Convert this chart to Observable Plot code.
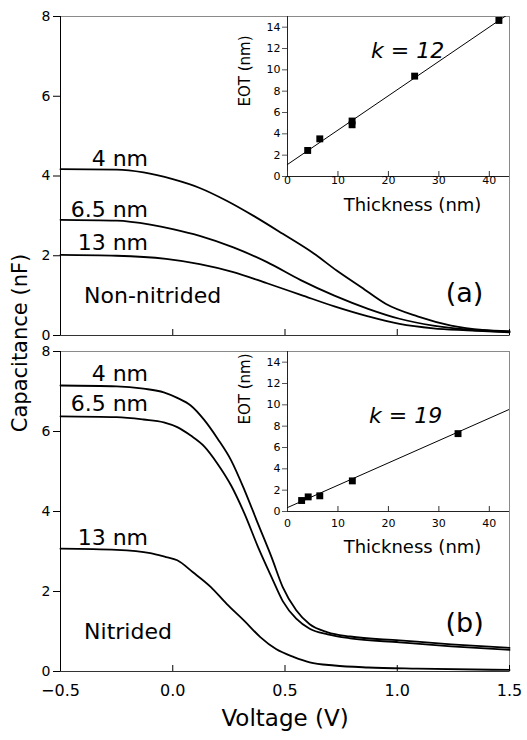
<!DOCTYPE html>
<html>
<head>
<meta charset="utf-8">
<script src="https://cdn.jsdelivr.net/npm/d3@7"></script>
<script src="https://cdn.jsdelivr.net/npm/@observablehq/plot@0.6"></script>
<style>
  html, body { margin: 0; padding: 0; background: #fff; }
  #wrap { position: relative; width: 527px; height: 740px; overflow: hidden; background: #fff; font-family: "DejaVu Sans", sans-serif; }
  .layer { position: absolute; }
  .layer svg { overflow: visible; }
  #ylab { position: absolute; left: 20px; top: 343px; transform: translate(-50%, -50%) rotate(-90deg); white-space: nowrap; font-size: 21px; color: #000; }
</style>
</head>
<body>
<div id="wrap">
  <div id="ylab">Capacitance (nF)</div>
</div>
<script>
// ---------- Data ----------
const voltTicks = [-0.5, 0.0, 0.5, 1.0, 1.5];
const capTicks = [0, 2, 4, 6, 8];
const thickTicks = [0, 10, 20, 30, 40];
const eotTicks = [0, 2, 4, 6, 8, 10, 12, 14];

// Panel (a) non-nitrided C-V curves
const a4V  = [-0.5, -0.25, -0.13, 0.0, 0.12, 0.24, 0.36, 0.49, 0.63, 0.73, 0.84, 0.95, 1.09, 1.24, 1.38, 1.5];
const a4C  = [4.17, 4.16, 4.09, 3.92, 3.70, 3.38, 3.00, 2.55, 2.05, 1.63, 1.21, 0.79, 0.48, 0.25, 0.14, 0.11];
const a65V = [-0.5, -0.25, -0.1, 0.0, 0.12, 0.27, 0.42, 0.57, 0.72, 0.87, 1.01, 1.16, 1.31, 1.5];
const a65C = [2.90, 2.88, 2.78, 2.67, 2.50, 2.21, 1.84, 1.39, 1.00, 0.67, 0.42, 0.25, 0.15, 0.09];
const a13V = [-0.5, -0.25, -0.03, 0.12, 0.27, 0.42, 0.57, 0.72, 0.87, 1.01, 1.16, 1.31, 1.5];
const a13C = [2.02, 2.00, 1.92, 1.79, 1.59, 1.31, 1.02, 0.73, 0.48, 0.29, 0.18, 0.13, 0.08];

// Panel (b) nitrided C-V curves
const b4V  = [-0.5, -0.25, -0.13, -0.04, 0.02, 0.08, 0.14, 0.2, 0.26, 0.32, 0.38, 0.44, 0.49, 0.55, 0.61, 0.69, 0.79, 1.01, 1.24, 1.5];
const b4C  = [7.15, 7.13, 7.07, 6.98, 6.84, 6.65, 6.29, 5.82, 5.28, 4.53, 3.69, 2.86, 2.11, 1.53, 1.18, 0.98, 0.875, 0.78, 0.68, 0.59];
const b65V = [-0.5, -0.25, -0.13, -0.04, 0.02, 0.08, 0.14, 0.2, 0.26, 0.32, 0.38, 0.44, 0.49, 0.55, 0.61, 0.69, 0.79, 1.01, 1.24, 1.5];
const b65C = [6.38, 6.36, 6.30, 6.23, 6.11, 5.90, 5.63, 5.19, 4.65, 3.94, 3.11, 2.36, 1.76, 1.32, 1.07, 0.93, 0.83, 0.73, 0.63, 0.54];
const b13V = [-0.5, -0.25, -0.1, -0.03, 0.02, 0.09, 0.17, 0.24, 0.32, 0.39, 0.46, 0.54, 0.61, 0.72, 0.87, 1.09, 1.5];
const b13C = [3.07, 3.04, 2.96, 2.86, 2.78, 2.48, 2.11, 1.69, 1.26, 0.86, 0.56, 0.36, 0.23, 0.15, 0.10, 0.07, 0.04];

// Insets: EOT vs physical thickness
const aThick = [4.0, 6.4, 12.8, 12.8, 25.2, 41.9];
const aEOT   = [2.44, 3.53, 4.85, 5.2, 9.41, 14.63];
const aFitT  = [0, 44];
const aFitE  = [1.13, 15.3];
const bThick = [2.8, 4.1, 6.4, 12.85, 33.8];
const bEOT   = [1.03, 1.37, 1.47, 2.87, 7.3];
const bFitT  = [0, 44];
const bFitE  = [0.37, 9.58];

// ---------- helpers ----------
const zip = (xs, ys) => xs.map((x, i) => ({x, y: ys[i]}));
const FONT = "DejaVu Sans, sans-serif";
const wrap = document.getElementById("wrap");
function place(el, left, top) {
  const d = document.createElement("div");
  d.className = "layer";
  d.style.left = left + "px";
  d.style.top = top + "px";
  d.appendChild(el);
  wrap.appendChild(d);
}

function mainPanel({height, marginTop, marginBottom, curves, labels, tag, tagY, name, nameY, showX}) {
  const innerH = height - marginTop - marginBottom;
  const marks = [
    Plot.frame({stroke: "#8a8a8a"}),
    Plot.ruleX([voltTicks[0]], {stroke: "#000"}),
    Plot.ruleY([capTicks[0]], {stroke: "#333"}),
    Plot.axisY({ticks: capTicks, tickSize: 7, tickPadding: 3, fontSize: 14, label: null, tickFormat: d3.format("d")}),
    Plot.tickX(voltTicks, {x: d => d, insetTop: innerH - 6, stroke: "#000"})
  ];
  curves.forEach(([vs, cs]) => marks.push(Plot.line(zip(vs, cs), {x: "x", y: "y", stroke: "#000", strokeWidth: 1.8, curve: "monotone-x"})));
  labels.forEach(([txt, yv]) => marks.push(Plot.text([txt], {x: -0.11, y: yv, textAnchor: "end", fontSize: 22})));
  marks.push(Plot.text([name], {x: -0.395, y: nameY, textAnchor: "start", fontSize: 22}));
  marks.push(Plot.text([tag], {x: 1.30, y: tagY, fontSize: 27}));
  if (showX) {
    marks.push(Plot.axisX({ticks: voltTicks, tickSize: 0, tickPadding: 13, fontSize: 16, label: null, tickFormat: d3.format(".1f")}));
    marks.push(Plot.text(["Voltage (V)"], {frameAnchor: "bottom", dy: 54, fontSize: 23}));
  }
  return Plot.plot({
    width: 527, height, marginLeft: 60, marginRight: 18, marginTop, marginBottom,
    x: {domain: [-0.5, 1.5], axis: showX ? undefined : null},
    y: {domain: [0, 8]},
    style: {fontFamily: FONT, background: "transparent", color: "#000", overflow: "visible"},
    marks
  });
}

function inset({height, marginTop, marginBottom, tx, ty, ft, fe, k, kx, ky, tickPad, eotDy, thickDy}) {
  const innerH = height - marginTop - marginBottom;
  return Plot.plot({
    width: 307, height, marginLeft: 67, marginRight: 18, marginTop, marginBottom,
    x: {domain: [0, 44]},
    y: {domain: [0, 15]},
    style: {fontFamily: FONT, background: "transparent", color: "#000", overflow: "visible"},
    marks: [
      Plot.ruleX([thickTicks[0]], {stroke: "#222"}),
      Plot.ruleY([eotTicks[0]], {stroke: "#222"}),
      Plot.axisY({ticks: eotTicks, tickSize: 5, tickPadding: 2, fontSize: 11, label: null, stroke: "#555"}),
      Plot.tickX(thickTicks, {x: d => d, insetTop: innerH - 5, stroke: "#333"}),
      Plot.axisX({ticks: thickTicks, tickSize: 0, tickPadding: tickPad, fontSize: 11, label: null}),
      Plot.line(zip(ft, fe), {x: "x", y: "y", stroke: "#000", strokeWidth: 1, clip: true}),
      Plot.dot(zip(tx, ty), {x: "x", y: "y", symbol: "square", r: 3.9, fill: "#000"}),
      Plot.text([k], {x: kx, y: ky, fontSize: 22, fontStyle: "italic"}),
      Plot.text(["EOT (nm)"], {frameAnchor: "left", rotate: -90, dx: -42, dy: eotDy, fontSize: 15}),
      Plot.text(["Thickness (nm)"], {frameAnchor: "bottom", dx: 14, dy: thickDy, fontSize: 18})
    ]
  });
}

// Panel (a)
place(mainPanel({
  height: 345, marginTop: 16, marginBottom: 10,
  curves: [[a4V, a4C], [a65V, a65C], [a13V, a13C]],
  labels: [["4 nm", 4.44], ["6.5 nm", 3.16], ["13 nm", 2.31]],
  tag: "(a)", tagY: 1.05, name: "Non-nitrided", nameY: 0.98, showX: false
}), 0, 0);

// Panel (b)
place(mainPanel({
  height: 395, marginTop: 6, marginBottom: 69,
  curves: [[b4V, b4C], [b65V, b65C], [b13V, b13C]],
  labels: [["4 nm", 7.45], ["6.5 nm", 6.70], ["13 nm", 3.35]],
  tag: "(b)", tagY: 1.2, name: "Nitrided", nameY: 0.98, showX: true
}), 0, 345);

// Inset (a)
place(inset({
  height: 230, marginTop: 16, marginBottom: 54,
  tx: aThick, ty: aEOT, ft: aFitT, fe: aFitE, k: "k = 12", kx: 23.8, ky: 11.8,
  tickPad: 0, eotDy: 10, thickDy: 34
}), 220, 0);

// Inset (b)
place(inset({
  height: 230, marginTop: 6, marginBottom: 64,
  tx: bThick, ty: bEOT, ft: bFitT, fe: bFitE, k: "k = 19", kx: 23.4, ky: 8.95,
  tickPad: 8, eotDy: -7, thickDy: 41
}), 220, 345);
</script>
</body>
</html>
